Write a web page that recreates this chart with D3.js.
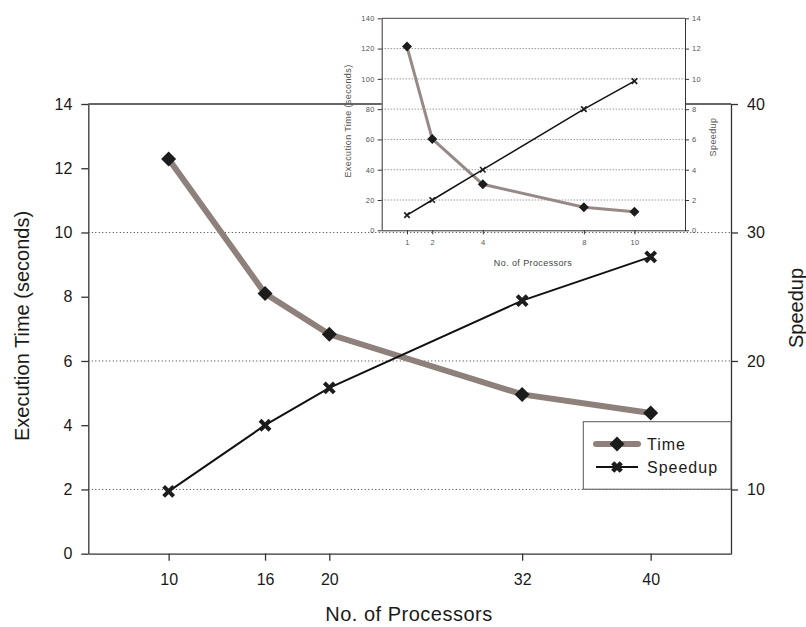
<!DOCTYPE html>
<html>
<head>
<meta charset="utf-8">
<script src="https://cdn.jsdelivr.net/npm/d3@7"></script>
<style>
  body { margin: 0; background: #fff; }
  svg { display: block; }
  svg text { font-family: "Liberation Sans", Arial, Helvetica, sans-serif; }
</style>
</head>
<body>
<svg id="chart" width="806" height="627"></svg>
<script>
// main chart data
var procs = [10, 16, 20, 32, 40];
var timeVals = [12.29, 8.10, 6.83, 4.96, 4.38];
var speedupVals = [9.85, 15.0, 17.9, 24.7, 28.1];
var leftTicks = [0, 2, 4, 6, 8, 10, 12, 14];
var rightTicks = [10, 20, 30, 40];

// inset data
var insetProcs = [1, 2, 4, 8, 10];
var insetTime = [121.3, 60.3, 30.4, 15.2, 12.3];
var insetSpeedup = [1, 2, 4, 8, 9.85];
var insetLeftTicks = [0, 20, 40, 60, 80, 100, 120, 140];
var insetRightTicks = [0, 2, 4, 6, 8, 10, 12, 14];

var timeColour = "#8e817c";
var markColour = "#1c1c1c";
var fontFam = "'Liberation Sans', Arial, Helvetica, sans-serif";

var svg = d3.select("#chart");

// marker shapes for d3.symbol
var diamondType = { draw: function(ctx, size) {
  var r = Math.sqrt(size) / 2;
  ctx.moveTo(0, -r); ctx.lineTo(r, 0); ctx.lineTo(0, r); ctx.lineTo(-r, 0); ctx.closePath();
}};
var crossType = { draw: function(ctx, size) {
  var r = Math.sqrt(size) / 2;
  ctx.moveTo(-r, -r); ctx.lineTo(r, r); ctx.moveTo(-r, r); ctx.lineTo(r, -r);
}};

// ---------- main chart ----------
var L = 88.3, R = 731, T = 104, B = 553.7;
var x = d3.scaleLinear().domain([5, 45]).range([L, R]);
var yL = d3.scaleLinear().domain([0, 14]).range([B, T]);
var yR = d3.scaleLinear().domain([5, 40]).range([B, T]);

// dotted grid lines (right axis ticks)
svg.append("g").selectAll("line")
  .data(rightTicks.filter(function(d) { return d < 40; }))
  .join("line")
  .attr("x1", L).attr("x2", R)
  .attr("y1", function(d) { return yR(d); })
  .attr("y2", function(d) { return yR(d); })
  .attr("stroke", "#333").attr("stroke-width", 1)
  .attr("stroke-dasharray", "1,2.5");

// frame top
svg.append("line").attr("x1", L).attr("x2", R).attr("y1", T).attr("y2", T)
  .attr("stroke", "#333").attr("stroke-width", 1.3);

function styleAxis(g, fs, col, sw, ls) {
  g.selectAll("path.domain").attr("stroke", "#333").attr("stroke-width", sw);
  g.selectAll(".tick line").attr("stroke", "#333").attr("stroke-width", sw);
  g.selectAll(".tick text").attr("font-size", fs).attr("fill", col)
    .attr("font-family", fontFam).attr("letter-spacing", ls || 0);
}

var gl = svg.append("g").attr("transform", "translate(" + L + ",0)")
  .call(d3.axisLeft(yL).tickValues(leftTicks).tickSize(7).tickSizeOuter(0).tickPadding(9));
styleAxis(gl, "16px", "#1a1a1a", 1.3);

var gr = svg.append("g").attr("transform", "translate(" + R + ",0)")
  .call(d3.axisRight(yR).tickValues(rightTicks).tickSize(7).tickSizeOuter(0).tickPadding(9));
styleAxis(gr, "16px", "#1a1a1a", 1.3);

var gb = svg.append("g").attr("transform", "translate(0," + B + ")")
  .call(d3.axisBottom(x).tickValues(procs).tickSize(7).tickSizeOuter(0).tickPadding(13));
styleAxis(gb, "16px", "#1a1a1a", 1.3);

// axis titles
svg.append("text")
  .attr("transform", "translate(29,326) rotate(-90)")
  .attr("text-anchor", "middle").attr("font-size", "20px").attr("fill", "#1a1a1a")
  .attr("font-family", fontFam)
  .text("Execution Time (seconds)");
svg.append("text")
  .attr("transform", "translate(803,308) rotate(-90)")
  .attr("text-anchor", "middle").attr("font-size", "20px").attr("fill", "#1a1a1a")
  .attr("font-family", fontFam)
  .text("Speedup");
svg.append("text")
  .attr("x", 409).attr("y", 621)
  .attr("text-anchor", "middle").attr("font-size", "20px").attr("letter-spacing", "0.5px")
  .attr("fill", "#1a1a1a").attr("font-family", fontFam)
  .text("No. of Processors");

// series
var timeLine = d3.line().x(function(d, i) { return x(procs[i]); }).y(function(d) { return yL(d); });
var spLine = d3.line().x(function(d, i) { return x(procs[i]); }).y(function(d) { return yR(d); });

svg.append("path").datum(timeVals).attr("d", timeLine)
  .attr("fill", "none").attr("stroke", timeColour).attr("stroke-width", 6);
svg.append("path").datum(speedupVals).attr("d", spLine)
  .attr("fill", "none").attr("stroke", "#111").attr("stroke-width", 2);

svg.append("g").selectAll("path").data(timeVals).join("path")
  .attr("transform", function(d, i) { return "translate(" + x(procs[i]) + "," + yL(d) + ")"; })
  .attr("d", d3.symbol(diamondType, 225))
  .attr("fill", markColour);
svg.append("g").selectAll("path").data(speedupVals).join("path")
  .attr("transform", function(d, i) { return "translate(" + x(procs[i]) + "," + yR(d) + ")"; })
  .attr("d", d3.symbol(crossType, 100))
  .attr("fill", "none").attr("stroke", markColour).attr("stroke-width", 4);

// legend
var lg = svg.append("g");
lg.append("rect").attr("x", 583.3).attr("y", 421.7).attr("width", R - 583.3).attr("height", 67.5)
  .attr("fill", "#fff").attr("stroke", "#555").attr("stroke-width", 1);
lg.append("line").attr("x1", 596).attr("x2", 638).attr("y1", 444).attr("y2", 444)
  .attr("stroke", timeColour).attr("stroke-width", 6).attr("stroke-linecap", "round");
lg.append("path").attr("transform", "translate(617,444)").attr("d", d3.symbol(diamondType, 225))
  .attr("fill", markColour);
lg.append("line").attr("x1", 596).attr("x2", 638).attr("y1", 467).attr("y2", 467)
  .attr("stroke", "#111").attr("stroke-width", 2);
lg.append("path").attr("transform", "translate(617,467)").attr("d", d3.symbol(crossType, 72))
  .attr("fill", "none").attr("stroke", markColour).attr("stroke-width", 4.5);
lg.append("text").attr("x", 647).attr("y", 444).attr("dy", "0.35em").attr("font-family", fontFam)
  .attr("font-size", "16px").attr("letter-spacing", "1px").attr("fill", "#1a1a1a").text("Time");
lg.append("text").attr("x", 647).attr("y", 467).attr("dy", "0.35em").attr("font-family", fontFam)
  .attr("font-size", "16px").attr("letter-spacing", "1px").attr("fill", "#1a1a1a").text("Speedup");

// ---------- inset chart ----------
var iL = 381.7, iR = 685, iT = 18.3, iB = 230.3;
var ix = d3.scaleLinear().domain([0, 12]).range([iL, iR]);
var iyL = d3.scaleLinear().domain([0, 140]).range([iB, iT]);
var iyR = d3.scaleLinear().domain([0, 14]).range([iB, iT]);

var inset = svg.append("g");
inset.append("rect").attr("x", iL).attr("y", iT).attr("width", iR - iL).attr("height", iB - iT)
  .attr("fill", "#fff");

inset.append("g").selectAll("line")
  .data(insetLeftTicks.filter(function(d) { return d > 0 && d < 140; }))
  .join("line")
  .attr("x1", iL).attr("x2", iR)
  .attr("y1", function(d) { return iyL(d); })
  .attr("y2", function(d) { return iyL(d); })
  .attr("stroke", "#444").attr("stroke-width", 0.8)
  .attr("stroke-dasharray", "1,2");

inset.append("line").attr("x1", iL).attr("x2", iR).attr("y1", iT).attr("y2", iT)
  .attr("stroke", "#444").attr("stroke-width", 1);

var il = inset.append("g").attr("transform", "translate(" + iL + ",0)")
  .call(d3.axisLeft(iyL).tickValues(insetLeftTicks).tickSize(4).tickSizeOuter(0).tickPadding(3));
styleAxis(il, "7.5px", "#555", 1, "0.3px");
var ir = inset.append("g").attr("transform", "translate(" + iR + ",0)")
  .call(d3.axisRight(iyR).tickValues(insetRightTicks).tickSize(4).tickSizeOuter(0).tickPadding(3));
styleAxis(ir, "7.5px", "#555", 1, "0.3px");
var ib = inset.append("g").attr("transform", "translate(0," + iB + ")")
  .call(d3.axisBottom(ix).tickValues(insetProcs).tickSize(4).tickSizeOuter(0).tickPadding(5));
styleAxis(ib, "7.5px", "#555", 1, "0.3px");

inset.append("text")
  .attr("transform", "translate(351,121) rotate(-90)")
  .attr("text-anchor", "middle").attr("font-size", "9px").attr("letter-spacing", "0.4px")
  .attr("font-family", fontFam).attr("fill", "#555").text("Execution Time (seconds)");
inset.append("text")
  .attr("transform", "translate(715.5,137) rotate(-90)")
  .attr("text-anchor", "middle").attr("font-size", "9px").attr("letter-spacing", "0.4px")
  .attr("font-family", fontFam).attr("fill", "#555").text("Speedup");
inset.append("text")
  .attr("x", 533).attr("y", 266)
  .attr("text-anchor", "middle").attr("font-size", "9px").attr("letter-spacing", "0.4px")
  .attr("font-family", fontFam).attr("fill", "#444").text("No. of Processors");

var iTimeLine = d3.line().x(function(d, i) { return ix(insetProcs[i]); }).y(function(d) { return iyL(d); });
var iSpLine = d3.line().x(function(d, i) { return ix(insetProcs[i]); }).y(function(d) { return iyR(d); });

inset.append("path").datum(insetTime).attr("d", iTimeLine)
  .attr("fill", "none").attr("stroke", "#978985").attr("stroke-width", 3);
inset.append("path").datum(insetSpeedup).attr("d", iSpLine)
  .attr("fill", "none").attr("stroke", "#111").attr("stroke-width", 1.5);

inset.append("g").selectAll("path").data(insetTime).join("path")
  .attr("transform", function(d, i) { return "translate(" + ix(insetProcs[i]) + "," + iyL(d) + ")"; })
  .attr("d", d3.symbol(diamondType, 100))
  .attr("fill", markColour);
inset.append("g").selectAll("path").data(insetSpeedup).join("path")
  .attr("transform", function(d, i) { return "translate(" + ix(insetProcs[i]) + "," + iyR(d) + ")"; })
  .attr("d", d3.symbol(crossType, 30))
  .attr("fill", "none").attr("stroke", markColour).attr("stroke-width", 1.6);
</script>
</body>
</html>
